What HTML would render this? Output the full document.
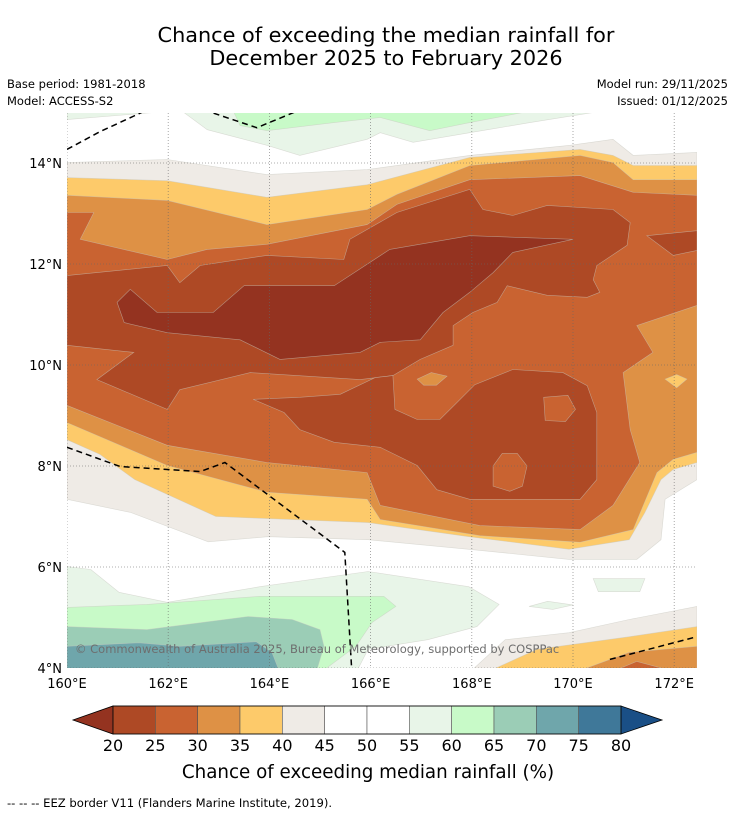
<!DOCTYPE html>
<html><head><meta charset="utf-8">
<style>
html,body{margin:0;padding:0;background:#fff;}
body{width:736px;height:816px;overflow:hidden;font-family:"DejaVu Sans","Liberation Sans",sans-serif;}
svg text{font-family:"DejaVu Sans","Liberation Sans",sans-serif;}
</style></head>
<body>
<svg id="chart" width="736" height="816" viewBox="0 0 736 816" xmlns="http://www.w3.org/2000/svg">
  <text x="386" y="42" font-size="20.8" text-anchor="middle" fill="#000">Chance of exceeding the median rainfall for</text>
  <text x="386" y="65" font-size="20.8" text-anchor="middle" fill="#000">December 2025 to February 2026</text>
  <text x="7" y="88" font-size="11.5" fill="#000">Base period: 1981-2018</text>
  <text x="7" y="105" font-size="11.5" fill="#000">Model: ACCESS-S2</text>
  <text x="728" y="88" font-size="11.5" text-anchor="end" fill="#000">Model run: 29/11/2025</text>
  <text x="728" y="105" font-size="11.5" text-anchor="end" fill="#000">Issued: 01/12/2025</text>
  <defs><clipPath id="mapclip"><rect x="67" y="113" width="630" height="555"/></clipPath></defs>
  <g id="map" clip-path="url(#mapclip)"></g>
  <g id="axes"></g>
  <text x="75" y="653" font-size="11.5" fill="#6e6e6e">© Commonwealth of Australia 2025, Bureau of Meteorology, supported by COSPPac</text>
  <g id="cbar"></g>
  <text x="368" y="778" font-size="18.3" text-anchor="middle" fill="#000">Chance of exceeding median rainfall (%)</text>
  <text x="7" y="807" font-size="11.6" fill="#000">--  --  -- EEZ border V11 (Flanders Marine Institute, 2019).</text>
</svg>
<script>
// ----- data -----
const lonTicks = [160,162,164,166,168,170,172];
const latTicks = [4,6,8,10,12,14];
const levels = [20,25,30,35,40,45,50,55,60,65,70,75,80];
const binColors = ["#ae4925","#c96331","#de9145","#fdca6a","#efebe6","#ffffff","#ffffff","#e8f5e8","#c8fac8","#9bcdb6","#6fa6ab","#3f7899"];
const underColor = "#943320";
const overColor = "#1a4f86";
// contour regions: [fill value %, polygon lon/lat]
const regionValues = [42,57,62,57,37,32,27,22,17,22,27,27,32,37,22,57,62,67,72,42,37,32,27,57,57];
const regionShapes = [
 [[160,14.01],[161.98,14.07],[163.95,13.77],[165.93,13.87],[167.96,14.15],[169.94,14.35],[170.79,14.47],[171.19,14.15],[172.45,14.21],[172.45,7.73],[171.82,7.34],[171.74,6.54],[171.26,6.15],[169.92,6.15],[167.94,6.35],[165.95,6.54],[163.97,6.60],[162.79,6.50],[161.26,7.08],[160,7.34]],
 [[162.31,15],[162.77,14.66],[163.95,14.35],[164.60,14.15],[165.93,14.47],[166.19,14.60],[166.84,14.41],[167.96,14.60],[169.15,14.80],[170.40,15]],
 [[163.30,15],[163.42,14.74],[163.95,14.64],[165.28,14.80],[166.19,14.90],[167.17,14.64],[167.96,14.80],[169.01,15]],
 [[160,15],[161.72,15],[160,14.86]],
 [[160,13.71],[161.98,13.65],[163.95,13.32],[165.93,13.57],[167.96,14.11],[170.14,14.27],[170.79,14.15],[171.19,13.95],[172.45,13.95],[172.45,8.07],[171.98,7.93],[171.74,7.73],[171.42,7.08],[171.11,6.54],[169.92,6.35],[167.94,6.60],[165.95,6.88],[162.94,7.0],[161.34,7.73],[160.65,8.23],[160,8.52]],
 [[160,13.36],[161.98,13.26],[163.95,12.78],[165.93,13.08],[166.52,13.38],[167.96,13.95],[170.14,14.15],[170.79,14.01],[171.19,13.67],[172.45,13.67],[172.45,8.27],[171.98,8.13],[171.66,7.87],[171.19,6.74],[170.14,6.49],[168.16,6.62],[166.19,6.94],[165.93,7.34],[163.95,7.48],[161.98,8.01],[160,8.86]],
 [[160,13.02],[160.53,13.02],[160.26,12.49],[161.98,12.09],[162.77,12.29],[163.95,12.39],[165.93,12.78],[166.52,13.18],[167.96,13.67],[170.14,13.75],[171.19,13.42],[172.45,13.36],[172.45,11.18],[171.26,10.78],[171.58,10.25],[170.99,9.85],[171.13,8.72],[171.32,8.07],[170.79,7.22],[170.14,6.74],[168.16,6.82],[166.19,7.22],[165.93,7.87],[163.95,8.07],[161.98,8.41],[160,9.20]],
 [[160,11.77],[161.98,11.97],[162.23,11.63],[162.63,11.97],[163.95,12.17],[165.47,12.09],[165.59,12.49],[166.52,13.02],[167.96,13.48],[168.22,13.08],[168.81,12.96],[169.49,13.16],[170.79,13.08],[171.13,12.82],[171.07,12.37],[170.47,11.97],[170.40,11.69],[170.53,11.44],[170.28,11.34],[169.49,11.38],[168.70,11.57],[168.50,11.24],[168.02,11.04],[167.63,10.78],[167.63,10.39],[166.98,10.11],[166.44,9.79],[165.79,9.71],[163.62,9.85],[162.23,9.51],[161.98,9.12],[160.59,9.71],[161.32,10.25],[160,10.39]],
 [[160.99,11.24],[161.25,11.50],[161.78,11.04],[162.89,11.04],[163.50,11.57],[165.28,11.57],[166.38,12.29],[167.96,12.56],[170.0,12.49],[168.81,12.23],[168.42,11.83],[167.96,11.44],[167.43,11.04],[166.98,10.50],[166.19,10.45],[165.79,10.25],[164.21,10.11],[163.42,10.50],[161.98,10.64],[161.13,10.84]],
 [[163.68,9.32],[164.60,9.36],[165.40,9.42],[166.09,9.75],[166.44,9.79],[166.48,9.12],[166.92,8.92],[167.37,8.92],[167.67,9.22],[168.06,9.61],[168.81,9.91],[169.80,9.85],[170.28,9.59],[170.47,9.06],[170.47,7.73],[170.14,7.34],[168.81,7.34],[167.96,7.34],[167.31,7.53],[166.92,8.01],[166.19,8.37],[165.28,8.47],[164.60,8.72],[164.29,9.06]],
 [[169.42,9.36],[169.9,9.40],[170.05,9.12],[169.85,8.88],[169.45,8.90]],
 [[168.42,7.6],[168.42,8.0],[168.6,8.25],[168.9,8.25],[169.09,8.0],[169.0,7.6],[168.75,7.5]],
 [[166.92,9.72],[167.2,9.85],[167.51,9.78],[167.3,9.6],[167.05,9.6]],
 [[171.82,9.72],[172.05,9.81],[172.25,9.72],[172.05,9.55]],
 [[171.46,12.56],[172.45,12.66],[172.45,12.27],[171.98,12.17]],
 [[160,6.01],[160.47,5.95],[161.03,5.50],[161.98,5.30],[163.81,5.61],[165.95,5.91],[167.94,5.61],[168.54,5.26],[168.10,4.82],[167.13,4.56],[165.95,4.37],[165.71,3.9],[160,3.9]],
 [[160,5.20],[161.58,5.26],[163.81,5.42],[166.26,5.42],[166.50,5.22],[166.03,4.90],[165.71,4.43],[165.0,3.9],[160,3.9]],
 [[160,4.82],[161.58,4.76],[163.58,5.02],[164.45,4.96],[165.0,4.76],[165.08,4.43],[164.92,3.9],[160,3.9]],
 [[160,4.43],[161.42,4.50],[162.23,4.43],[163.74,4.52],[164.05,4.31],[164.21,3.9],[160,3.9]],
 [[167.94,3.9],[168.66,4.56],[169.92,4.70],[171.11,4.96],[172.45,5.22],[172.45,3.9]],
 [[168.26,3.9],[169.29,4.37],[171.11,4.62],[172.45,4.82],[172.45,3.9]],
 [[170.0,3.9],[171.11,4.31],[172.45,4.43],[172.45,3.9]],
 [[170.71,3.9],[171.26,4.13],[172.11,3.9]],
 [[170.40,5.77],[171.42,5.77],[171.32,5.51],[170.5,5.51]],
 [[169.13,5.22],[169.5,5.32],[170.0,5.25],[169.6,5.16]]
];
const eezLines = [
 [[160,14.27],[160.65,14.62],[161.58,15.05]],
 [[162.71,15.05],[163.75,14.70],[164.60,15.05]],
 [[160,8.37],[161.05,7.99],[162.63,7.89],[163.12,8.07],[165.49,6.29],[165.63,3.9]],
 [[170.73,4.17],[172.45,4.62]]
];
// ----- scales -----
const X0=67, PXLON=50.6, Y14=163, PXLAT=50.5;
const xs = lon => X0 + (lon-160)*PXLON;
const ys = lat => Y14 + (14-lat)*PXLAT;
const NS="http://www.w3.org/2000/svg";
function mk(tag, attrs, parent){const e=document.createElementNS(NS,tag);for(const k in attrs)e.setAttribute(k,attrs[k]);parent.appendChild(e);return e;}
function colorFor(v){
  if(v<levels[0]) return underColor;
  if(v>=levels[levels.length-1]) return overColor;
  for(let i=0;i<levels.length-1;i++) if(v>=levels[i]&&v<levels[i+1]) return binColors[i];
}
const map=document.getElementById('map');
const bg=mk('rect',{x:67,y:113,width:630,height:555,fill:'#fff'},map);


regionShapes.forEach((poly,i)=>{
  const p=mk('polygon',{points:poly.map(q=>xs(q[0]).toFixed(1)+','+ys(q[1]).toFixed(1)).join(' '),fill:colorFor(regionValues[i]),stroke:'#c8c8c0','stroke-width':0.6,'stroke-opacity':0.6},map);
  
  
});
// gridlines
lonTicks.forEach(l=>{
  const g=mk('line',{x1:xs(l),x2:xs(l),y1:113,y2:668,stroke:'#666','stroke-width':0.8,'stroke-dasharray':'1,2','stroke-opacity':0.7},map);
  
  
});
latTicks.forEach(l=>{
  const g=mk('line',{x1:67,x2:697,y1:ys(l),y2:ys(l),stroke:'#666','stroke-width':0.8,'stroke-dasharray':'1,2','stroke-opacity':0.7},map);
  
  
});
eezLines.forEach(line=>{
  const e=mk('polyline',{points:line.map(q=>xs(q[0]).toFixed(1)+','+ys(q[1]).toFixed(1)).join(' '),fill:'none',stroke:'#000','stroke-width':1.5,'stroke-dasharray':'6,4'},map);
  
  
});
// axes
const ax=document.getElementById('axes');
lonTicks.forEach(l=>{
  const t=mk('text',{x:xs(l),y:688,'font-size':13,'text-anchor':'middle',fill:'#000'},ax);
  t.textContent=l+'°E';
  
  
});
latTicks.forEach(l=>{
  const t=mk('text',{x:62,y:ys(l)+5,'font-size':13,'text-anchor':'end',fill:'#000'},ax);
  t.textContent=l+'°N';
  
  
});
// colorbar
const cb=document.getElementById('cbar');
const CB0=113, CB1=621, CBT=706, CBB=734;
const cbx=v=>CB0+(v-levels[0])/(levels[levels.length-1]-levels[0])*(CB1-CB0);
const under=mk('polygon',{points:`${CB0},${CBT} ${CB0},${CBB} 73,720`,fill:underColor,stroke:'#000','stroke-width':0.8},cb);


const over=mk('polygon',{points:`${CB1},${CBT} ${CB1},${CBB} 662,720`,fill:overColor,stroke:'#000','stroke-width':0.8},cb);


binColors.forEach((c,i)=>{
  const r=mk('rect',{x:cbx(levels[i]),y:CBT,width:cbx(levels[i+1])-cbx(levels[i]),height:CBB-CBT,fill:c,stroke:'#555','stroke-width':0.6},cb);
  
  
});
const fr=mk('rect',{x:CB0,y:CBT,width:CB1-CB0,height:CBB-CBT,fill:'none',stroke:'#000','stroke-width':0.8},cb);


levels.forEach(v=>{
  const t=mk('text',{x:cbx(v),y:751,'font-size':16,'text-anchor':'middle',fill:'#000'},cb);
  t.textContent=v;
  
  
});
</script>
</body></html>
